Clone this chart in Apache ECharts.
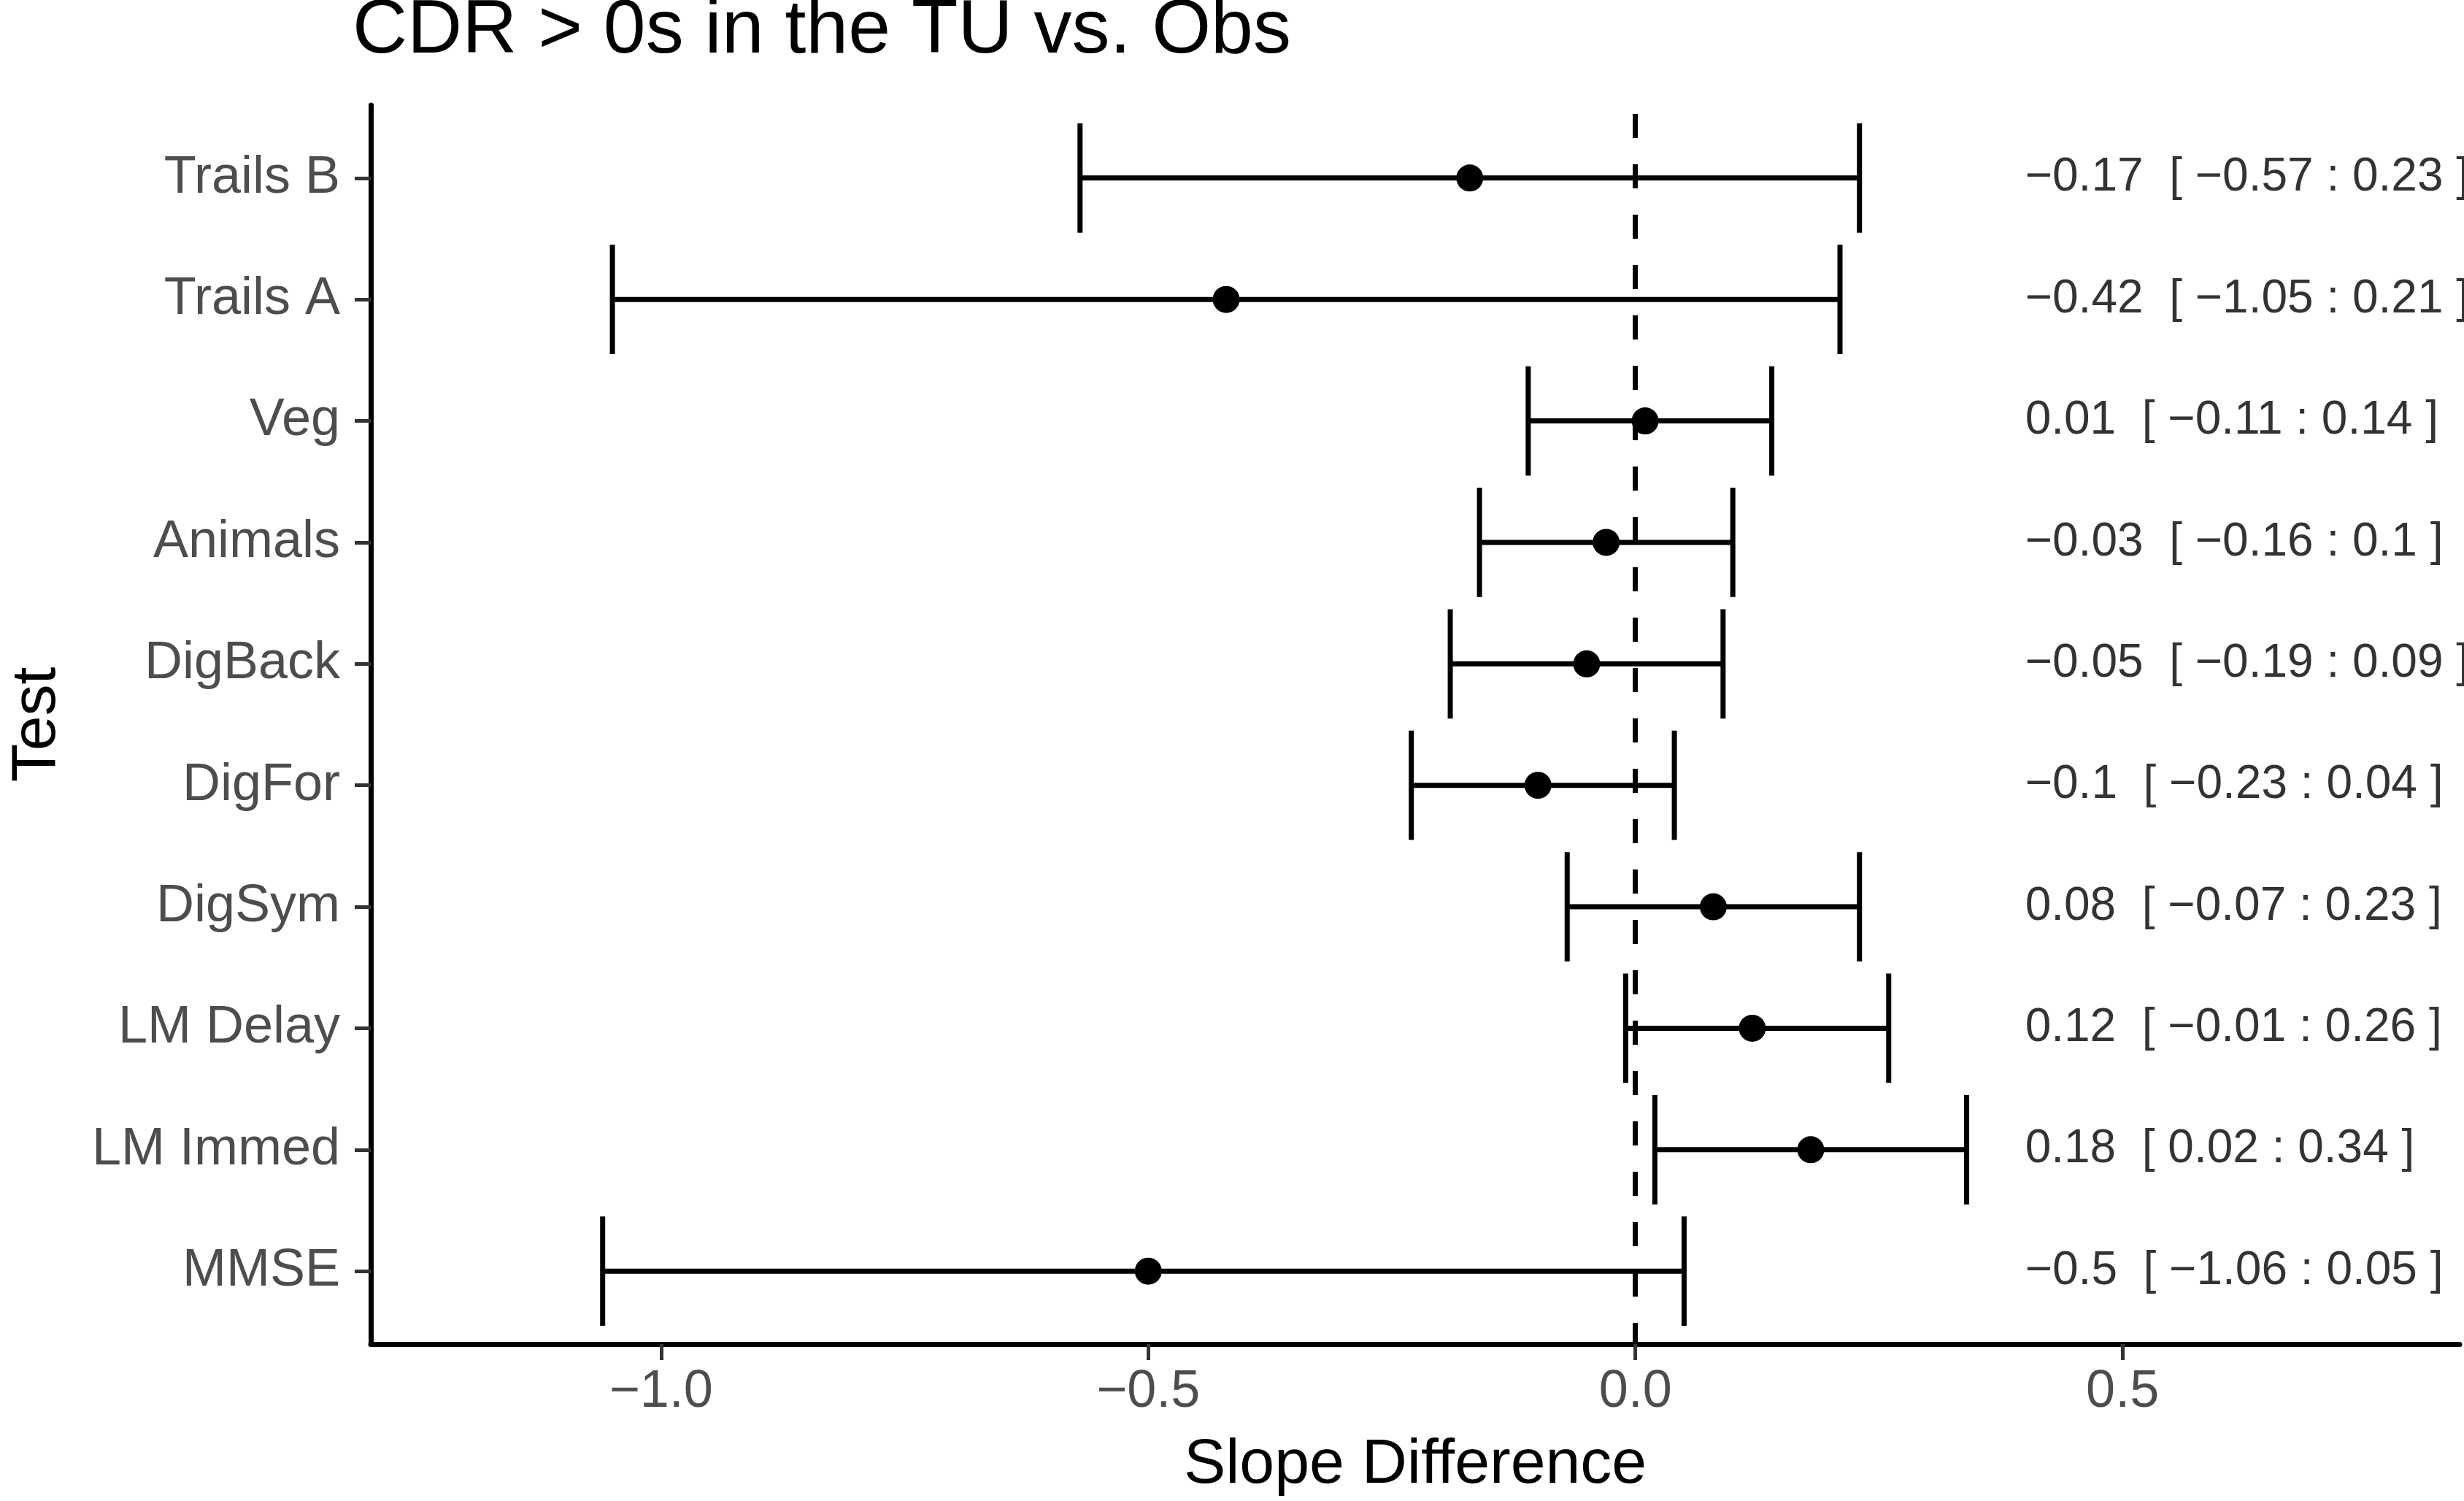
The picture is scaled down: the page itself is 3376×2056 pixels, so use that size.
<!DOCTYPE html>
<html lang="en">
<head>
<meta charset="UTF-8">
<title>CDR > 0s in the TU vs. Obs</title>
<script src="https://cdn.jsdelivr.net/npm/echarts@6/dist/echarts.min.js"></script>
<style>
  html, body { margin: 0; padding: 0; background: #fff; }
  #chart { width: 3376px; height: 2056px; }
</style>
</head>
<body>
<div id="chart"></div>
<script>
// data, top row first
var tests = ['Trails B', 'Trails A', 'Veg', 'Animals', 'DigBack', 'DigFor', 'DigSym', 'LM Delay', 'LM Immed', 'MMSE'];
var estimate = [-0.17, -0.42, 0.01, -0.03, -0.05, -0.1, 0.08, 0.12, 0.18, -0.5];
var lower = [-0.57, -1.05, -0.11, -0.16, -0.19, -0.23, -0.07, -0.01, 0.02, -1.06];
var upper = [0.23, 0.21, 0.14, 0.1, 0.09, 0.04, 0.23, 0.26, 0.34, 0.05];
var xTicks = [-1, -0.5, 0, 0.5];
var labelX = 0.4;

var FONT = '"Liberation Sans", Arial, Helvetica, sans-serif';
var n = tests.length;

function rowY(i) { return n - i; } // Trails B on top

function fmt(v) {
    return (v < 0 ? '\u2212' : '') + Math.abs(v);
}

var barData = [], pointData = [], textData = [], texts = [];
for (var i = 0; i < n; i++) {
    barData.push([rowY(i), lower[i], upper[i]]);
    pointData.push([estimate[i], rowY(i)]);
    textData.push([labelX, rowY(i)]);
    texts.push(fmt(estimate[i]) + '  [ ' + fmt(lower[i]) + ' : ' + fmt(upper[i]) + ' ]');
}
var yTicks = tests.map(function (t, i) { return rowY(i); });

var chart = echarts.init(document.getElementById('chart'));

var option = {
    animation: false,
    backgroundColor: '#fff',
    title: {
        text: 'CDR > 0s in the TU vs. Obs',
        left: 483,
        top: -9,
        padding: 0,
        textStyle: { fontFamily: FONT, fontSize: 104, fontWeight: 'normal', color: '#000' }
    },
    grid: { left: 487, right: 6, top: 144, bottom: 215, containLabel: false },
    xAxis: {
        type: 'value',
        min: -1.298,
        max: 0.846,
        name: 'Slope Difference',
        nameLocation: 'middle',
        nameGap: 123,
        nameTextStyle: { fontFamily: FONT, fontSize: 86, color: '#000' },
        axisLine: { show: true, onZero: false, lineStyle: { color: '#000', width: 7 } },
        axisTick: { show: true, customValues: xTicks, length: 22, lineStyle: { color: '#333', width: 5 } },
        axisLabel: {
            customValues: xTicks,
            margin: 30,
            fontFamily: FONT, fontSize: 72, color: '#4d4d4d',
            formatter: function (v) { return (v < 0 ? '\u2212' : '') + Math.abs(v).toFixed(1); }
        },
        splitLine: { show: false }
    },
    yAxis: {
        type: 'value',
        min: 0.4,
        max: n + 0.6,
        name: 'Test',
        nameLocation: 'middle',
        nameRotate: 90,
        nameGap: 414,
        nameTextStyle: { fontFamily: FONT, fontSize: 86, color: '#000' },
        axisLine: { show: true, onZero: false, lineStyle: { color: '#000', width: 7 } },
        axisTick: { show: true, customValues: yTicks, length: 22, lineStyle: { color: '#333', width: 5 } },
        axisLabel: {
            customValues: yTicks,
            margin: 42,
            fontFamily: FONT, fontSize: 72, color: '#4d4d4d',
            formatter: function (v) { return tests[n - Math.round(v)]; }
        },
        splitLine: { show: false }
    },
    series: [
        {
            type: 'custom',
            name: 'interval',
            data: barData,
            encode: { x: [1, 2], y: 0 },
            renderItem: function (params, api) {
                var y = api.value(0);
                var a = api.coord([api.value(1), y]);
                var b = api.coord([api.value(2), y]);
                var half = api.size([0, 0.9])[1] / 2;
                var style = { stroke: '#000', lineWidth: 7, fill: null };
                return {
                    type: 'group',
                    children: [
                        { type: 'line', shape: { x1: a[0], y1: a[1], x2: b[0], y2: b[1] }, style: style },
                        { type: 'line', shape: { x1: a[0], y1: a[1] - half, x2: a[0], y2: a[1] + half }, style: style },
                        { type: 'line', shape: { x1: b[0], y1: b[1] - half, x2: b[0], y2: b[1] + half }, style: style }
                    ]
                };
            },
            markLine: {
                silent: true,
                symbol: 'none',
                label: { show: false },
                lineStyle: { color: '#000', width: 7, type: [33, 36], dashOffset: 4 },
                data: [{ xAxis: 0 }]
            },
            z: 2
        },
        {
            type: 'scatter',
            name: 'estimate',
            data: pointData,
            symbol: 'circle',
            symbolSize: 37,
            itemStyle: { color: '#000', opacity: 1 },
            z: 3
        },
        {
            type: 'scatter',
            name: 'text',
            data: textData,
            symbolSize: 0,
            silent: true,
            label: {
                show: true,
                position: 'right',
                distance: 0,
                fontFamily: FONT,
                fontSize: 64,
                color: '#000',
                formatter: function (p) { return texts[p.dataIndex]; }
            },
            z: 3
        }
    ]
};

chart.setOption(option);
</script>
</body>
</html>
